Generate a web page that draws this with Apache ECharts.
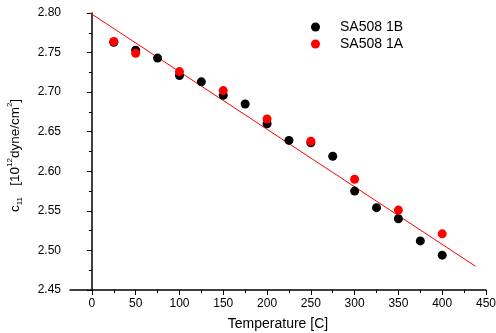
<!DOCTYPE html>
<html><head><meta charset="utf-8">
<script src="https://cdn.jsdelivr.net/npm/echarts@6/dist/echarts.min.js"></script>
<style>html,body{margin:0;padding:0;background:#fff}#c{width:496px;height:333px}</style>
</head><body><div id="c"></div>
<script>
const temps1B = [25,50,75,100,125,150,175,200,225,250,275,300,325,350,375,400];
const c11_1B = [2.763,2.753,2.743,2.721,2.713,2.696,2.685,2.660,2.639,2.636,2.619,2.575,2.554,2.540,2.512,2.494];
const temps1A = [25,50,100,150,200,250,300,350,400];
const c11_1A = [2.764,2.749,2.726,2.702,2.666,2.638,2.590,2.551,2.521];
const fitX = [-2, 438];
const fitY = [2.800, 2.480];
const xMajor = [0,50,100,150,200,250,300,350,400,450];
const xMinor = [25,75,125,175,225,275,325,375,425];

const font = 'Liberation Sans, Arial, sans-serif';
const chart = echarts.init(document.getElementById('c'), null, {renderer:'canvas'});
chart.setOption({
  animation:false,
  backgroundColor:'#fff',
  grid:{left:70,right:10,top:13,bottom:43,outerBoundsMode:'none',containLabel:false},
  legend:{
    orient:'vertical', left:306, top:15, itemGap:3,
    itemWidth:9, itemHeight:9,
    data:[{name:'SA508 1B',icon:'circle'},{name:'SA508 1A',icon:'circle'}],
    textStyle:{fontFamily:font,fontSize:14,color:'#000',padding:[0,0,0,15]}
  },
  xAxis:[{
    type:'value', min:-25, max:450,
    name:'Temperature [C]', nameLocation:'middle', nameGap:27,
    nameTextStyle:{fontFamily:font,fontSize:14,color:'#000'},
    axisLine:{onZero:false,lineStyle:{color:'#000',width:1.5}},
    axisTick:{customValues:xMinor,length:3,lineStyle:{color:'#000',width:1}},
    axisLabel:{customValues:xMajor,fontFamily:font,fontSize:12,color:'#000',margin:8},
    splitLine:{show:false}
  },{
    type:'value', min:-25, max:450, position:'bottom',
    axisLine:{show:false},
    axisTick:{show:true,customValues:xMajor,length:5,lineStyle:{color:'#000',width:1}},
    axisLabel:{show:false},
    splitLine:{show:false}
  }],
  yAxis:{
    type:'value', min:2.45, max:2.80, interval:0.05,
    name:'{t|c}{sub|11}{t|   [10}{sup|12}{t|dyne/cm}{sup|2}{t|]}',
    nameLocation:'middle', nameGap:46,
    nameTextStyle:{
      padding:[0,8,0,0],
      rich:{
        t:{fontFamily:font,fontSize:13.5,color:'#000',lineHeight:18,verticalAlign:'middle'},
        sub:{fontFamily:font,fontSize:8,color:'#000',lineHeight:18,verticalAlign:'bottom'},
        sup:{fontFamily:font,fontSize:8,color:'#000',lineHeight:18,verticalAlign:'top'}
      }
    },
    axisLine:{show:true,lineStyle:{color:'#000',width:1.5}},
    axisTick:{show:true,length:5,lineStyle:{color:'#000',width:1}},
    minorTick:{show:true,splitNumber:2,length:3,lineStyle:{color:'#000',width:1}},
    axisLabel:{fontFamily:font,fontSize:12,color:'#000',margin:9,formatter:v=>v.toFixed(2)},
    splitLine:{show:false}
  },
  series:[
    {type:'line',name:'fit',data:fitX.map((x,i)=>[x,fitY[i]]),showSymbol:false,symbol:'none',
     lineStyle:{color:'#ff0000',width:1},itemStyle:{color:'#ff0000'},z:1},
    {type:'scatter',name:'SA508 1B',data:temps1B.map((x,i)=>[x,c11_1B[i]]),symbol:'circle',symbolSize:9,
     itemStyle:{color:'#000000',opacity:1},z:2},
    {type:'scatter',name:'SA508 1A',data:temps1A.map((x,i)=>[x,c11_1A[i]]),symbol:'circle',symbolSize:9,
     itemStyle:{color:'#ff0000',opacity:1},z:3}
  ]
});
</script></body></html>
